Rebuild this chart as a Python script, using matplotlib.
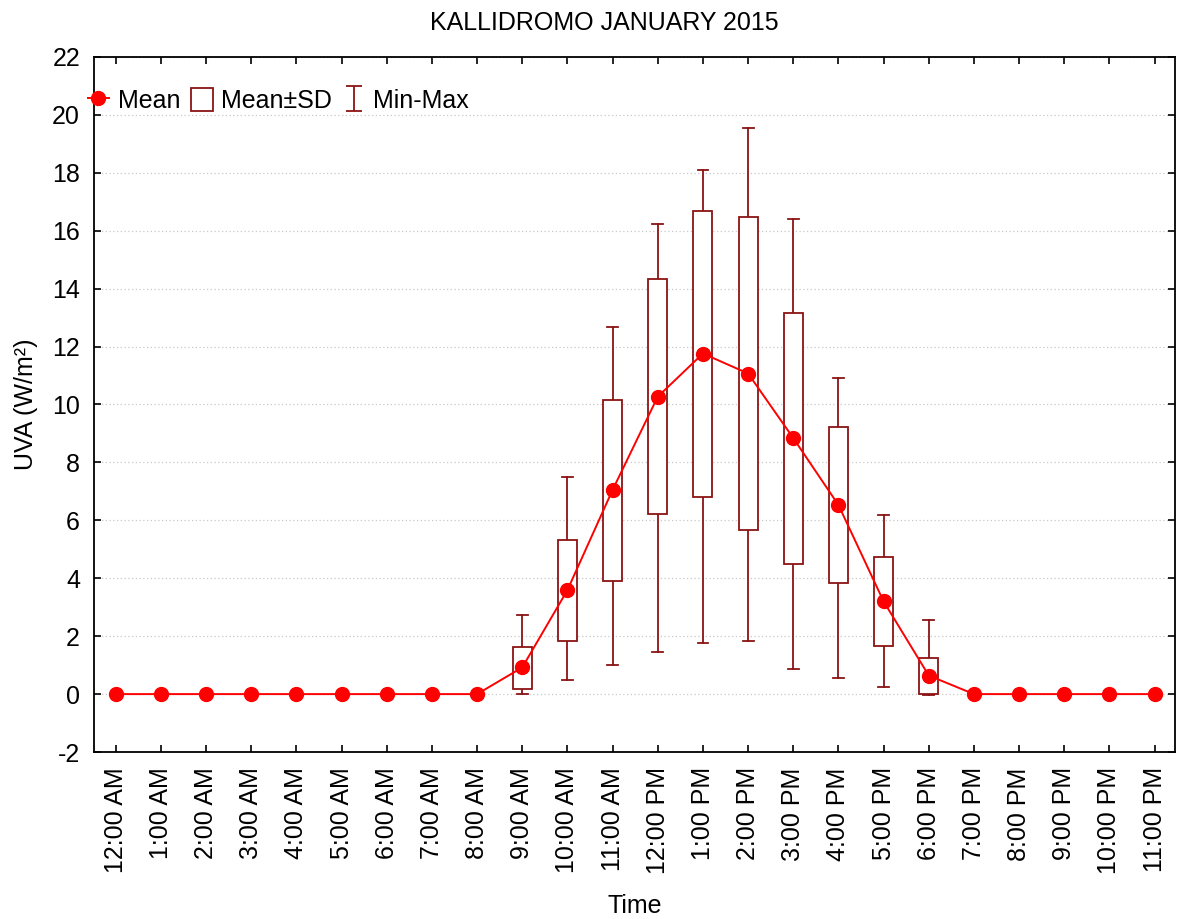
import numpy as np
import matplotlib
matplotlib.use("Agg")
import matplotlib.pyplot as plt
from matplotlib.patches import Rectangle, Patch
from matplotlib.lines import Line2D

plt.rcParams['font.family'] = ['Liberation Sans', 'DejaVu Sans']
plt.rcParams['axes.unicode_minus'] = False

# hourly statistics of UVA (W/m2), Kallidromo, January 2015
hours = ["12:00 AM", "1:00 AM", "2:00 AM", "3:00 AM", "4:00 AM", "5:00 AM",
         "6:00 AM", "7:00 AM", "8:00 AM", "9:00 AM", "10:00 AM", "11:00 AM",
         "12:00 PM", "1:00 PM", "2:00 PM", "3:00 PM", "4:00 PM", "5:00 PM",
         "6:00 PM", "7:00 PM", "8:00 PM", "9:00 PM", "10:00 PM", "11:00 PM"]
mean = [0, 0, 0, 0, 0, 0, 0, 0, 0, 0.92, 3.59, 7.05, 10.27, 11.76, 11.07,
        8.84, 6.53, 3.20, 0.64, 0, 0, 0, 0, 0]
sd_low = [0, 0, 0, 0, 0, 0, 0, 0, 0, 0.16, 1.85, 3.90, 6.21, 6.81, 5.66,
          4.49, 3.85, 1.65, 0.02, 0, 0, 0, 0, 0]
sd_high = [0, 0, 0, 0, 0, 0, 0, 0, 0, 1.63, 5.32, 10.16, 14.33, 16.68, 16.47,
           13.16, 9.21, 4.72, 1.24, 0, 0, 0, 0, 0]
vmin = [0, 0, 0, 0, 0, 0, 0, 0, 0, 0.01, 0.47, 1.00, 1.45, 1.75, 1.84,
        0.87, 0.54, 0.25, -0.03, 0, 0, 0, 0, 0]
vmax = [0, 0, 0, 0, 0, 0, 0, 0, 0, 2.73, 7.51, 12.66, 16.23, 18.10, 19.55,
        16.42, 10.93, 6.17, 2.57, 0, 0, 0, 0, 0]

box_col = "#8B1414"
mean_col = "#FF0000"
fs = 18

fig = plt.figure(figsize=(11.81, 9.19), dpi=100)
ax = fig.add_axes([0.0796, 0.1817, 0.9153, 0.7563])

x = np.arange(len(hours))
bw = 0.42
cw = 0.24
for i in x:
    if vmax[i] == vmin[i] and sd_high[i] == sd_low[i]:
        continue
    # whiskers
    ax.plot([i, i], [sd_high[i], vmax[i]], color=box_col, lw=1.3, zorder=2)
    ax.plot([i, i], [vmin[i], sd_low[i]], color=box_col, lw=1.3, zorder=2)
    ax.plot([i - cw / 2, i + cw / 2], [vmax[i], vmax[i]], color=box_col, lw=1.3, zorder=2)
    ax.plot([i - cw / 2, i + cw / 2], [vmin[i], vmin[i]], color=box_col, lw=1.3, zorder=2)
    ax.add_patch(Rectangle((i - bw / 2, sd_low[i]), bw, sd_high[i] - sd_low[i],
                           facecolor="white", edgecolor=box_col, lw=1.3, zorder=3))

ax.plot(x, mean, color=mean_col, lw=1.4, marker="o", markersize=10, zorder=4)

ax.set_xlim(-0.48, 23.45)
ax.set_ylim(-2, 22)
ax.set_yticks(np.arange(-2, 23, 2))
ax.set_xticks(x)
ax.set_xticklabels(hours, rotation=90)
ax.tick_params(direction="in", length=5, width=1.2, labelsize=fs,
               top=True, right=True)
ax.tick_params(axis="y", pad=10)
ax.tick_params(axis="x", pad=11)
ax.yaxis.grid(True, linestyle=(0, (1, 2)), color="#c8c8c8", lw=0.9)
ax.set_axisbelow(True)
for s in ax.spines.values():
    s.set_linewidth(1.3)

fig.text(0.512, 0.967, "KALLIDROMO JANUARY 2015", fontsize=fs,
         ha="center", va="baseline")
ax.set_xlabel("Time", fontsize=fs, labelpad=14)
ax.set_ylabel("UVA (W/m²)", fontsize=fs, labelpad=10)

eb = ax.errorbar([np.nan], [np.nan], yerr=[1], fmt="none", ecolor=box_col,
                 elinewidth=1.3, capsize=6, capthick=1.3)
handles = [Line2D([], [], color=mean_col, marker="o", markersize=10, lw=1.4),
           Patch(facecolor="white", edgecolor=box_col, lw=1.3),
           eb]
ax.legend(handles, ["Mean", "Mean±SD", "Min-Max"], loc="upper left", ncol=3,
          frameon=False, fontsize=fs, handlelength=0.85, handleheight=1.0,
          handletextpad=0.35, columnspacing=0.45, borderpad=0,
          borderaxespad=0, bbox_to_anchor=(-0.006, 0.955))

fig.savefig("out.png", dpi=100)
